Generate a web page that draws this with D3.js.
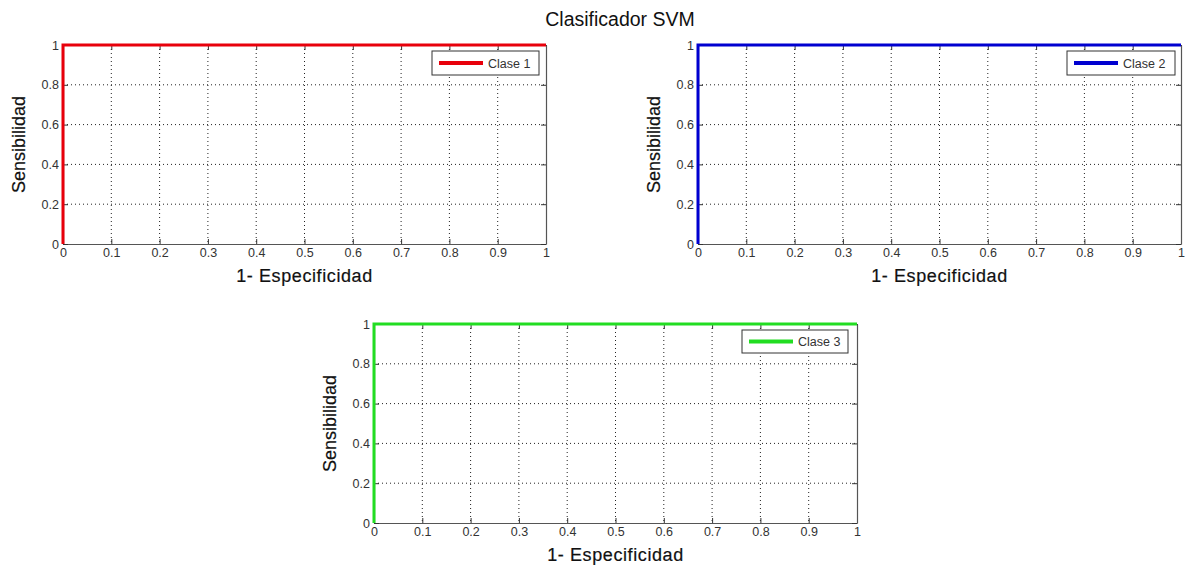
<!DOCTYPE html>
<html><head><meta charset="utf-8">
<script src="https://cdn.jsdelivr.net/npm/d3@7"></script>
<style>
body{margin:0;background:#fff;}
text{font-family:Arial,"Liberation Sans",sans-serif;}
</style></head>
<body>
<svg id="c" width="1191" height="567"></svg>
<script>
const title = "Clasificador SVM";
const xTicks = [0,0.1,0.2,0.3,0.4,0.5,0.6,0.7,0.8,0.9,1];
const yTicks = [0,0.2,0.4,0.6,0.8,1];
const classNames = ["Clase 1","Clase 2","Clase 3"];
const classColors = ["#e8000b","#0000d0","#22dd22"];
const fpr1 = [0,0,1], tpr1 = [0,1,1];
const fpr2 = [0,0,1], tpr2 = [0,1,1];
const fpr3 = [0,0,1], tpr3 = [0,1,1];
const xLabel = "1- Especificidad", yLabel = "Sensibilidad";

const svg = d3.select("#c");
svg.append("text").attr("x",620).attr("y",26).attr("text-anchor","middle")
  .attr("font-size",19.5).attr("fill","#111").text(title);

const panels = [
  {x:63,y:45,w:483,h:199,fpr:fpr1,tpr:tpr1,leg:{x:432,y:51,w:107,h:24}},
  {x:698,y:45,w:483,h:199,fpr:fpr2,tpr:tpr2,leg:{x:1067,y:51,w:108,h:24}},
  {x:374,y:324,w:483,h:199,fpr:fpr3,tpr:tpr3,leg:{x:742,y:330,w:106,h:23}}
];

panels.forEach((p,i)=>{
  const g = svg.append("g").attr("transform",`translate(${p.x},${p.y})`);
  const xs = d3.scaleLinear().domain([0,1]).range([0,p.w]);
  const ys = d3.scaleLinear().domain([0,1]).range([p.h,0]);
  g.selectAll(".gx").data(xTicks.slice(1,-1)).join("line")
    .attr("x1",d=>xs(d)).attr("x2",d=>xs(d)).attr("y1",0).attr("y2",p.h)
    .attr("stroke","#222").attr("stroke-width",1).attr("stroke-dasharray","1,3");
  g.selectAll(".gy").data(yTicks.slice(1,-1)).join("line")
    .attr("y1",d=>ys(d)).attr("y2",d=>ys(d)).attr("x1",0).attr("x2",p.w)
    .attr("stroke","#222").attr("stroke-width",1).attr("stroke-dasharray","1,3");
  const xa = g.append("g").attr("transform",`translate(0,${p.h})`)
    .call(d3.axisBottom(xs).tickValues(xTicks).tickFormat(d=>d3.format("")(d)).tickSizeInner(-5).tickSizeOuter(0).tickPadding(4));
  const xa2 = g.append("g").call(d3.axisTop(xs).tickValues(xTicks).tickFormat("").tickSizeInner(-5).tickSizeOuter(0));
  const ya = g.append("g")
    .call(d3.axisLeft(ys).tickValues(yTicks).tickFormat(d=>d3.format("")(d)).tickSizeInner(-5).tickSizeOuter(0).tickPadding(4));
  const ya2 = g.append("g").attr("transform",`translate(${p.w},0)`)
    .call(d3.axisRight(ys).tickValues(yTicks).tickFormat("").tickSizeInner(-5).tickSizeOuter(0));
  [xa,xa2,ya,ya2].forEach(a=>{
    a.selectAll("path").attr("stroke","#555").attr("stroke-width",1.2);
    a.selectAll("line").attr("stroke","#333");
    a.selectAll("text").attr("font-size",12.5).attr("fill","#333").attr("font-family","Arial,'Liberation Sans',sans-serif");
  });
  const pts = p.fpr.map((v,k)=>[v,p.tpr[k]]);
  g.append("path").datum(pts)
    .attr("d",d3.line().x(d=>xs(d[0])).y(d=>ys(d[1])))
    .attr("fill","none").attr("stroke",classColors[i]).attr("stroke-width",3);
  g.append("text").attr("x",p.w/2).attr("y",p.h+38).attr("text-anchor","middle")
    .attr("font-size",18).attr("fill","#111").attr("stroke","#111").attr("stroke-width",0.2)
    .attr("letter-spacing",0.6).text(xLabel);
  g.append("text").attr("transform",`translate(-38,${p.h/2}) rotate(-90)`).attr("text-anchor","middle")
    .attr("font-size",18).attr("fill","#111").attr("stroke","#111").attr("stroke-width",0.2).text(yLabel);
  const L = p.leg;
  const lg = svg.append("g").attr("transform",`translate(${L.x},${L.y})`);
  lg.append("rect").attr("width",L.w).attr("height",L.h).attr("fill","#fff").attr("stroke","#333").attr("stroke-width",1);
  lg.append("line").attr("x1",7).attr("x2",51).attr("y1",L.h/2).attr("y2",L.h/2)
    .attr("stroke",classColors[i]).attr("stroke-width",4);
  lg.append("text").attr("x",56).attr("y",L.h/2+4.5).attr("font-size",12.5).attr("fill","#333").text(classNames[i]);
});
</script>
</body></html>
